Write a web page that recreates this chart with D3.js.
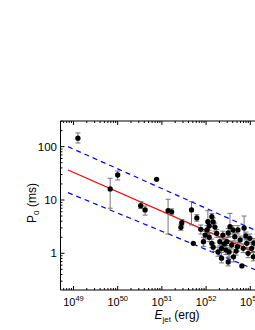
<!DOCTYPE html>
<html><head><meta charset="utf-8">
<script src="https://cdn.jsdelivr.net/npm/d3@7"></script>
<style>html,body{margin:0;padding:0;background:#fff;overflow:hidden}</style>
</head><body>
<svg id="c" width="255" height="330"></svg>
<script>
// ---- data (log10 of E_jet in erg, P0 in ms, error bar limits in ms) ----
const logE = [49.10,49.83,50.00,50.88,50.52,50.62,51.14,51.22,51.45,51.43,
  51.67,51.71,51.88,51.94,52.04,52.07,52.02,52.13,52.07,52.13,
  52.24,52.54,52.38,52.50,52.61,52.47,52.35,52.45,52.58,52.65,
  52.71,52.92,52.99,53.03,52.95,53.07,52.62,52.81,52.35,52.86,
  51.79,52.31,52.27,52.50,52.77,52.84,52.20,52.16,52.72,52.41,
  52.68,52.90,53.08,51.98,52.16,52.52];
const P0 = [144,16.1,29.4,24.4,7.8,6.5,6.3,6.0,3.75,3.07,
  6.5,1.54,2.82,1.65,3.92,3.25,2.74,4.86,2.0,1.54,
  2.37,3.16,2.2,2.4,2.74,1.65,1.24,1.15,1.43,2.05,
  1.33,1.54,1.91,1.24,1.0,0.86,0.86,0.58,0.81,2.98,
  4.6,1.65,1.06,0.69,1.78,1.24,3.1,3.86,2.74,1.5,
  1.1,2.11,1.56,2.2,1.3,1.06];
const P0hi = [181,25.5,35,null,9.3,7.7,10.3,6.8,4.3,3.5,
  9.3,null,3.4,2.0,6.3,3.9,3.3,5.6,2.4,1.85,
  2.8,5.6,2.6,2.9,3.3,2.0,1.5,1.4,1.7,2.45,
  1.6,1.85,2.3,1.5,1.2,1.03,1.06,null,1.15,5.0,
  5.3,2.0,1.3,0.83,2.1,1.5,3.7,4.6,3.3,1.8,
  1.3,2.5,1.9,2.6,1.55,1.27];
const P0lo = [117,7.0,23.7,null,6.9,5.2,2.3,5.3,3.3,2.7,
  3.4,null,2.3,1.35,2.4,2.7,2.3,4.2,1.65,1.28,
  2.0,2.05,1.85,2.0,2.3,1.38,1.03,0.95,1.2,1.7,
  1.1,1.28,1.6,1.03,0.83,0.72,0.69,null,0.66,1.94,
  4.0,1.38,0.88,0.58,1.5,1.03,2.6,3.2,2.3,1.25,
  0.92,1.78,1.3,1.85,1.08,0.88];
// fitted relation and bounds: log P0 = a + b*(log E - 48.876)
const fitStart = 48.876;
const fitA = [1.563, 2.0, 1.137];
const fitB = [-0.365, -0.370, -0.341];
const fitColor = ["#ff0000","#0000ff","#0000ff"];
const fitDash = [null,"5,4","5,4"];
const xTicksExp = [49,50,51,52,53];
const yTicks = [1,10,100];

const svg = d3.select("#c");
const L=60.5, T=121, B=290, R=272;
const x = d3.scaleLinear().domain([48.706, 48.706 + (R-L)/44.2]).range([L,R]);
const y = d3.scaleLog().domain([0.2048, 303]).range([B,T]);

const font = "Liberation Sans, Arial, sans-serif";
const g = svg.append("g");

svg.append("clipPath").attr("id","pc").append("rect")
  .attr("x",L).attr("y",T).attr("width",R-L).attr("height",B-T);
fitA.forEach((a,i)=>{
  const e1 = 53.6;
  g.append("line").attr("clip-path","url(#pc)")
    .attr("x1",x(fitStart)).attr("y1",y(Math.pow(10,a)))
    .attr("x2",x(e1)).attr("y2",y(Math.pow(10,a+fitB[i]*(e1-fitStart))))
    .attr("stroke",fitColor[i]).attr("stroke-width",1.2)
    .attr("stroke-dasharray",fitDash[i]);
});

// error bars
const idx = d3.range(logE.length);
const eg = g.append("g").attr("stroke","#666").attr("stroke-width",0.9);
idx.filter(i=>P0hi[i]!=null).forEach(i=>{
  const cx = x(logE[i]);
  eg.append("line").attr("x1",cx).attr("x2",cx).attr("y1",y(P0hi[i])).attr("y2",y(P0lo[i]));
  eg.append("line").attr("x1",cx-2.5).attr("x2",cx+2.5).attr("y1",y(P0hi[i])).attr("y2",y(P0hi[i]));
  eg.append("line").attr("x1",cx-2.5).attr("x2",cx+2.5).attr("y1",y(P0lo[i])).attr("y2",y(P0lo[i]));
});
// points
g.append("g").selectAll("path").data(idx).join("path")
  .attr("transform",i=>`translate(${x(logE[i])},${y(P0[i])})`)
  .attr("d",d3.symbol().type(d3.symbolCircle).size(22))
  .attr("fill","#000");

// axes
const minorX = [];
for(let e=48;e<=53;e++) for(let k=2;k<=9;k++){const v=e+Math.log10(k); if(v>=x.domain()[0]&&v<=x.domain()[1]) minorX.push(v);}
const minorY = [];
for(let e=-1;e<=2;e++) for(let k=2;k<=9;k++){const v=k*Math.pow(10,e); if(v>=y.domain()[0]&&v<=y.domain()[1]) minorY.push(v);}

const ax = svg.append("g").attr("stroke","#000").attr("stroke-width",1);
ax.append("line").attr("x1",L).attr("x2",L).attr("y1",T).attr("y2",B);
ax.append("line").attr("x1",L).attr("x2",R).attr("y1",T).attr("y2",T);
ax.append("line").attr("x1",L).attr("x2",R).attr("y1",B).attr("y2",B);
xTicksExp.forEach(e=>{
  ax.append("line").attr("x1",x(e)).attr("x2",x(e)).attr("y1",B).attr("y2",B-4);
  ax.append("line").attr("x1",x(e)).attr("x2",x(e)).attr("y1",T).attr("y2",T+4);
});
minorX.forEach(v=>{
  ax.append("line").attr("x1",x(v)).attr("x2",x(v)).attr("y1",B).attr("y2",B-2);
  ax.append("line").attr("x1",x(v)).attr("x2",x(v)).attr("y1",T).attr("y2",T+2);
});
yTicks.forEach(v=>ax.append("line").attr("x1",L).attr("x2",L+4).attr("y1",y(v)).attr("y2",y(v)));
minorY.forEach(v=>ax.append("line").attr("x1",L).attr("x2",L+2).attr("y1",y(v)).attr("y2",y(v)));

// tick labels
xTicksExp.forEach(e=>{
  const t = svg.append("text").attr("x",x(e)).attr("y",306).attr("text-anchor","middle")
    .attr("font-family",font).attr("font-size",11);
  t.append("tspan").text("10");
  t.append("tspan").attr("font-size",7.5).attr("dy",-5).text(e);
});
yTicks.forEach(v=>{
  svg.append("text").attr("x",57).attr("y",y(v)).attr("dy","0.36em").attr("text-anchor","end")
    .attr("font-family",font).attr("font-size",11.5).text(v);
});
// axis titles
const yl = svg.append("text").attr("transform","translate(36,203) rotate(-90)")
  .attr("text-anchor","middle").attr("font-family",font).attr("font-size",12);
yl.append("tspan").text("P");
yl.append("tspan").attr("font-size",8).attr("dy",3).text("0");
yl.append("tspan").attr("dy",-3).text(" (ms)");
const xl = svg.append("text").attr("x",177).attr("y",319).attr("text-anchor","middle")
  .attr("font-family",font).attr("font-size",12);
xl.append("tspan").attr("font-style","italic").text("E");
xl.append("tspan").attr("font-size",8).attr("dy",3).text("jet");
xl.append("tspan").attr("dy",-3).text(" (erg)");
</script>
</body></html>
